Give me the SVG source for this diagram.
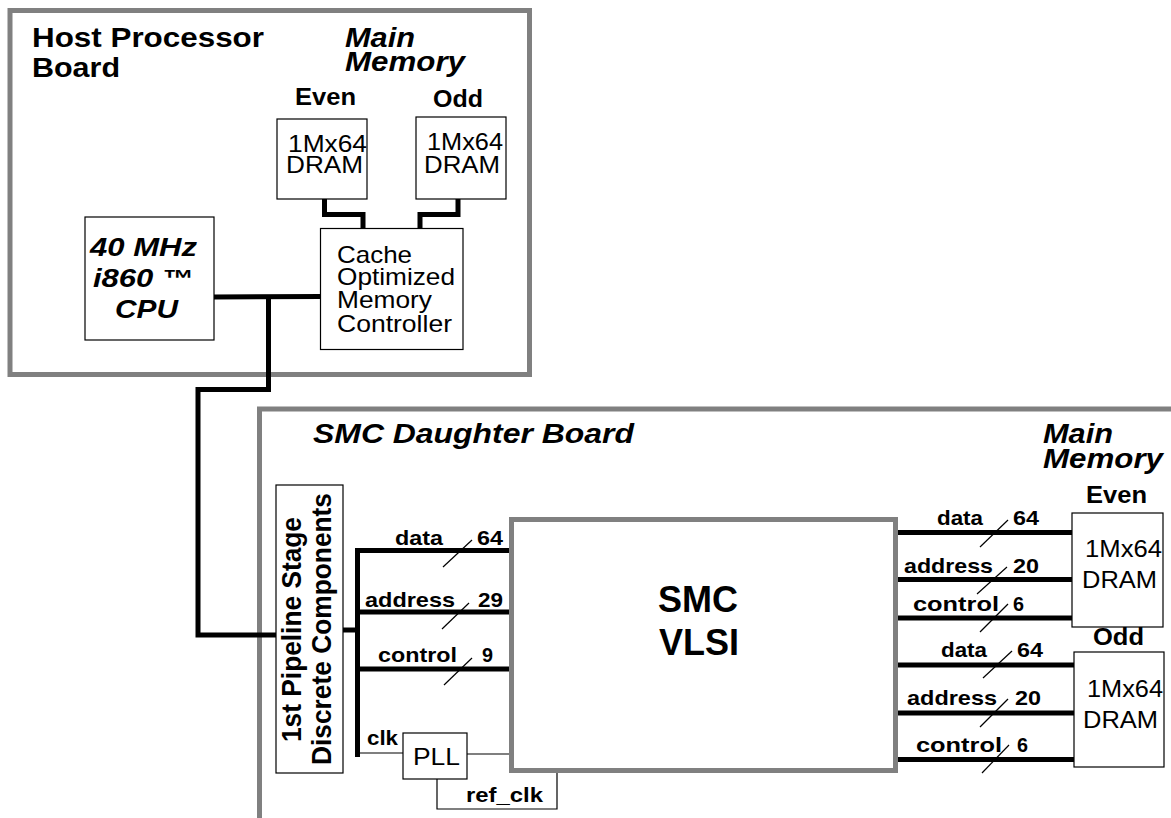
<svg xmlns="http://www.w3.org/2000/svg" width="1171" height="818" viewBox="0 0 1171 818">
<style>
text{font-family:"Liberation Sans",Arial,Helvetica,sans-serif;fill:#000}
.b{font-weight:bold}
.bi{font-weight:bold;font-style:italic}
.board{fill:none;stroke:#808080;stroke-width:5}
.box{fill:#fff;stroke:#000;stroke-width:1.2}
.bus{fill:none;stroke:#000;stroke-width:5}
.thin{fill:none;stroke:#000;stroke-width:1.2}
.lbl{font-weight:bold;font-size:20.5px}
.reg{font-size:24px}
</style>
<rect width="1171" height="818" fill="#fff"/>

<g id="host-board">
<rect class="board" x="10" y="10.5" width="519.5" height="364"/>
<text class="b" font-size="28" x="32" y="47" textLength="232" lengthAdjust="spacingAndGlyphs">Host Processor</text>
<text class="b" font-size="28" x="32" y="77" textLength="88" lengthAdjust="spacingAndGlyphs">Board</text>
<text class="bi" font-size="27" x="345" y="47" textLength="70" lengthAdjust="spacingAndGlyphs">Main</text>
<text class="bi" font-size="27" x="345" y="71" textLength="120" lengthAdjust="spacingAndGlyphs">Memory</text>
<text class="b" font-size="23" x="295" y="105" textLength="61" lengthAdjust="spacingAndGlyphs">Even</text>
<text class="b" font-size="23" x="433" y="107" textLength="50" lengthAdjust="spacingAndGlyphs">Odd</text>
</g>

<g id="smc-board">
<polyline class="board" points="259.5,818 259.5,409 1171,409"/>
<text class="bi" font-size="28" x="313" y="443" textLength="321" lengthAdjust="spacingAndGlyphs">SMC Daughter Board</text>
<text class="bi" font-size="27" x="1043" y="443" textLength="70" lengthAdjust="spacingAndGlyphs">Main</text>
<text class="bi" font-size="27" x="1043" y="468" textLength="120" lengthAdjust="spacingAndGlyphs">Memory</text>
<text class="b" font-size="23" x="1086" y="503" textLength="61" lengthAdjust="spacingAndGlyphs">Even</text>
<text class="b" font-size="23" x="1093" y="645" textLength="51" lengthAdjust="spacingAndGlyphs">Odd</text>
</g>

<g id="connectors">
<polyline class="bus" points="324.5,199 324.5,214.5 363,214.5 363,228.5"/>
<polyline class="bus" points="458,199 458,214.5 420,214.5 420,228.5"/>
<line class="bus" x1="214" y1="297" x2="321" y2="296.5"/>
<polyline class="bus" points="268.5,297 268.5,389.5 198,389.5 198,635 277,635"/>
<line class="bus" x1="342" y1="630" x2="357.5" y2="630"/>
<line class="bus" x1="357.5" y1="548" x2="357.5" y2="757"/>
<line class="bus" x1="355" y1="550.5" x2="512" y2="550.5"/>
<line class="bus" x1="355" y1="612" x2="512" y2="612"/>
<line class="bus" x1="355" y1="669" x2="512" y2="669"/>
<line class="thin" x1="443" y1="567" x2="472" y2="540"/>
<line class="thin" x1="442" y1="629" x2="469" y2="603"/>
<line class="thin" x1="444" y1="685" x2="472" y2="658"/>
<line class="thin" x1="357.5" y1="753" x2="403" y2="753"/>
<line class="thin" x1="467" y1="754" x2="511" y2="754"/>
<polyline class="thin" points="437,779 437,809 557,809 557,772"/>
<line class="bus" x1="897" y1="532.5" x2="1072" y2="532.5"/>
<line class="bus" x1="897" y1="579.5" x2="1074" y2="579.5"/>
<line class="bus" x1="897" y1="618" x2="1072" y2="618"/>
<line class="bus" x1="897" y1="665" x2="1074" y2="665"/>
<line class="bus" x1="897" y1="713" x2="1074" y2="713"/>
<line class="bus" x1="897" y1="759.5" x2="1074" y2="759.5"/>
<line class="thin" x1="980" y1="547" x2="1008" y2="520"/>
<line class="thin" x1="977" y1="594" x2="1007" y2="567"/>
<line class="thin" x1="980" y1="632" x2="1008" y2="604"/>
<line class="thin" x1="983" y1="678" x2="1012" y2="651"/>
<line class="thin" x1="980" y1="727" x2="1008" y2="699"/>
<line class="thin" x1="982" y1="773" x2="1009" y2="745"/>
<text class="lbl" x="395" y="545" textLength="48" lengthAdjust="spacingAndGlyphs">data</text>
<text class="lbl" x="477" y="545" textLength="26" lengthAdjust="spacingAndGlyphs">64</text>
<text class="lbl" x="365" y="607" textLength="90" lengthAdjust="spacingAndGlyphs">address</text>
<text class="lbl" x="478" y="607" textLength="25" lengthAdjust="spacingAndGlyphs">29</text>
<text class="lbl" x="378" y="662" textLength="79" lengthAdjust="spacingAndGlyphs">control</text>
<text class="lbl" x="482" y="662" textLength="11" lengthAdjust="spacingAndGlyphs">9</text>
<text class="lbl" x="367" y="745" textLength="31" lengthAdjust="spacingAndGlyphs">clk</text>
<text class="lbl" x="466" y="802" textLength="77" lengthAdjust="spacingAndGlyphs">ref_clk</text>
<text class="lbl" x="937" y="525" textLength="46" lengthAdjust="spacingAndGlyphs">data</text>
<text class="lbl" x="1013" y="525" textLength="26" lengthAdjust="spacingAndGlyphs">64</text>
<text class="lbl" x="904" y="573" textLength="89" lengthAdjust="spacingAndGlyphs">address</text>
<text class="lbl" x="1013" y="573" textLength="26" lengthAdjust="spacingAndGlyphs">20</text>
<text class="lbl" x="913" y="611" textLength="86" lengthAdjust="spacingAndGlyphs">control</text>
<text class="lbl" x="1013" y="611" textLength="11" lengthAdjust="spacingAndGlyphs">6</text>
<text class="lbl" x="941" y="657" textLength="46" lengthAdjust="spacingAndGlyphs">data</text>
<text class="lbl" x="1017" y="657" textLength="26" lengthAdjust="spacingAndGlyphs">64</text>
<text class="lbl" x="907" y="705" textLength="90" lengthAdjust="spacingAndGlyphs">address</text>
<text class="lbl" x="1015" y="705" textLength="26" lengthAdjust="spacingAndGlyphs">20</text>
<text class="lbl" x="916" y="752" textLength="86" lengthAdjust="spacingAndGlyphs">control</text>
<text class="lbl" x="1017" y="752" textLength="11" lengthAdjust="spacingAndGlyphs">6</text>
</g>

<g id="even-dram-host">
<rect class="box" x="277" y="119" width="90" height="80"/>
<text class="reg" x="288" y="152" textLength="79" lengthAdjust="spacingAndGlyphs">1Mx64</text>
<text class="reg" x="286" y="173" textLength="77" lengthAdjust="spacingAndGlyphs">DRAM</text>
</g>
<g id="odd-dram-host">
<rect class="box" x="416" y="117" width="90" height="82"/>
<text class="reg" x="427" y="150" textLength="76" lengthAdjust="spacingAndGlyphs">1Mx64</text>
<text class="reg" x="424" y="173" textLength="76" lengthAdjust="spacingAndGlyphs">DRAM</text>
</g>
<g id="memory-controller">
<rect class="box" x="320.5" y="228.5" width="142.5" height="121"/>
<text class="reg" x="337" y="263" textLength="75" lengthAdjust="spacingAndGlyphs">Cache</text>
<text class="reg" x="337" y="285" textLength="118" lengthAdjust="spacingAndGlyphs">Optimized</text>
<text class="reg" x="337" y="308" textLength="95" lengthAdjust="spacingAndGlyphs">Memory</text>
<text class="reg" x="337" y="332" textLength="115" lengthAdjust="spacingAndGlyphs">Controller</text>
</g>
<g id="cpu">
<rect class="box" x="85" y="217" width="129" height="123"/>
<text class="bi" font-size="25" x="90" y="256" textLength="107" lengthAdjust="spacingAndGlyphs">40 MHz</text>
<text class="bi" font-size="25" x="93" y="287" textLength="100" lengthAdjust="spacingAndGlyphs">i860 ™</text>
<text class="bi" font-size="25" x="115" y="318" textLength="63" lengthAdjust="spacingAndGlyphs">CPU</text>
</g>

<g id="pipeline">
<rect class="box" x="276" y="485" width="67" height="288"/>
<text class="b" font-size="27.5" transform="translate(301,742) rotate(-90)" textLength="225" lengthAdjust="spacingAndGlyphs">1st Pipeline Stage</text>
<text class="b" font-size="27.5" transform="translate(331,765) rotate(-90)" textLength="272" lengthAdjust="spacingAndGlyphs">Discrete Components</text>
</g>

<g id="smc-vlsi">
<rect x="511.5" y="519.5" width="384" height="251" fill="#fff" stroke="#808080" stroke-width="5"/>
<text class="b" font-size="37" x="658" y="612" textLength="80" lengthAdjust="spacingAndGlyphs">SMC</text>
<text class="b" font-size="37" x="659" y="655" textLength="80" lengthAdjust="spacingAndGlyphs">VLSI</text>
</g>

<g id="pll">
<rect class="box" x="403" y="733" width="64" height="46"/>
<text class="reg" x="413" y="765" textLength="47" lengthAdjust="spacingAndGlyphs">PLL</text>
</g>

<g id="even-dram-smc">
<rect class="box" x="1072" y="513" width="91" height="114"/>
<text class="reg" x="1085" y="557" textLength="77" lengthAdjust="spacingAndGlyphs">1Mx64</text>
<text class="reg" x="1082" y="588" textLength="75" lengthAdjust="spacingAndGlyphs">DRAM</text>
</g>
<g id="odd-dram-smc">
<rect class="box" x="1074" y="652" width="90" height="115"/>
<text class="reg" x="1087" y="697" textLength="76" lengthAdjust="spacingAndGlyphs">1Mx64</text>
<text class="reg" x="1083" y="728" textLength="75" lengthAdjust="spacingAndGlyphs">DRAM</text>
</g>
</svg>
